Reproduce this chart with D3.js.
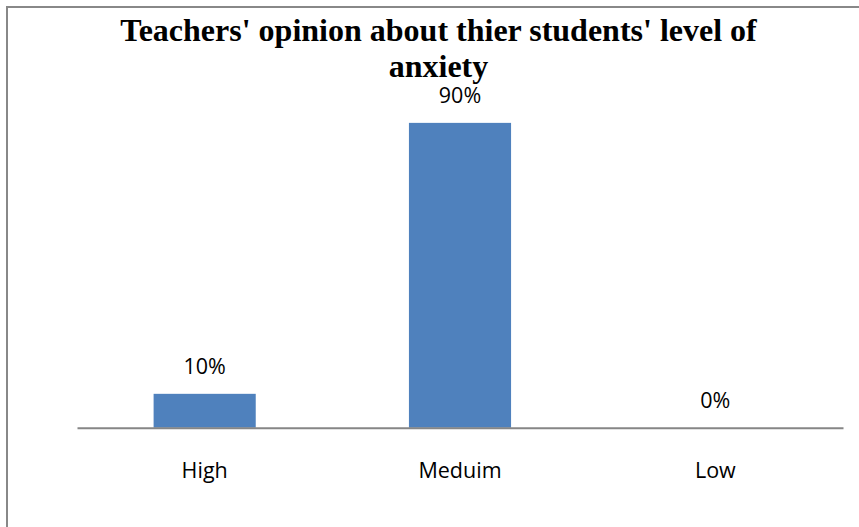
<!DOCTYPE html>
<html>
<head>
<meta charset="utf-8">
<script src="https://cdn.jsdelivr.net/npm/d3@7"></script>
<style>
  html, body { margin: 0; padding: 0; background: #fff; overflow: hidden; }
  svg { display: block; }
</style>
</head>
<body>
<svg id="chart" width="859" height="527"></svg>
<script>
const categories = ["High", "Meduim", "Low"];
const values = [0.10, 0.90, 0.00];
const valueLabels = ["10%", "90%", "0%"];
const titleLines = ["Teachers' opinion about thier students' level of", "anxiety"];

const W = 859, H = 527;
const svg = d3.select("#chart");

// outer chart border (only top and left edges visible in frame)
svg.append("rect")
  .attr("x", 7).attr("y", 7)
  .attr("width", W + 20).attr("height", H + 20)
  .attr("fill", "#fff")
  .attr("stroke", "#888888")
  .attr("stroke-width", 2);

const plot = { left: 77, right: 843, top: 89, bottom: 427.7 };

const x = d3.scaleBand().domain(categories).range([plot.left, plot.right]).padding(0);
const y = d3.scaleLinear().domain([0, 1]).range([plot.bottom, plot.top]);

const bw = x.bandwidth();
const barW = bw * 0.4;

// bars
svg.append("g").selectAll("rect")
  .data(categories.map((c, i) => ({ c, v: values[i], l: valueLabels[i] })))
  .join("rect")
  .attr("x", d => x(d.c) + (bw - barW) / 2)
  .attr("y", d => y(d.v))
  .attr("width", barW)
  .attr("height", d => y(0) - y(d.v))
  .attr("fill", "#4F81BD");

// axis
const axis = svg.append("g")
  .attr("transform", `translate(0,${y(0)})`)
  .call(d3.axisBottom(x).tickSize(0).tickPadding(0));
axis.select(".domain").attr("stroke", "#868686").attr("stroke-width", 2);
axis.selectAll(".tick text")
  .attr("y", 50).attr("dy", 0)
  .attr("font-family", "'Open Sans', sans-serif")
  .attr("font-size", 21.5)
  .attr("fill", "#000");

// data labels
svg.append("g").selectAll("text")
  .data(categories.map((c, i) => ({ c, v: values[i], l: valueLabels[i] })))
  .join("text")
  .attr("x", d => x(d.c) + bw / 2)
  .attr("y", d => y(d.v) - 19.5)
  .attr("text-anchor", "middle")
  .attr("font-family", "'Open Sans', sans-serif")
  .attr("font-size", 21.5)
  .attr("fill", "#000")
  .text(d => d.l);

// title
svg.append("g").selectAll("text")
  .data(titleLines)
  .join("text")
  .attr("x", 438.5)
  .attr("y", (d, i) => 41 + i * 36)
  .attr("text-anchor", "middle")
  .attr("font-family", "'Liberation Serif', 'Times New Roman', serif")
  .attr("font-weight", "bold")
  .attr("font-size", 32)
  .attr("fill", "#000")
  .text(d => d);
</script>
</body>
</html>
